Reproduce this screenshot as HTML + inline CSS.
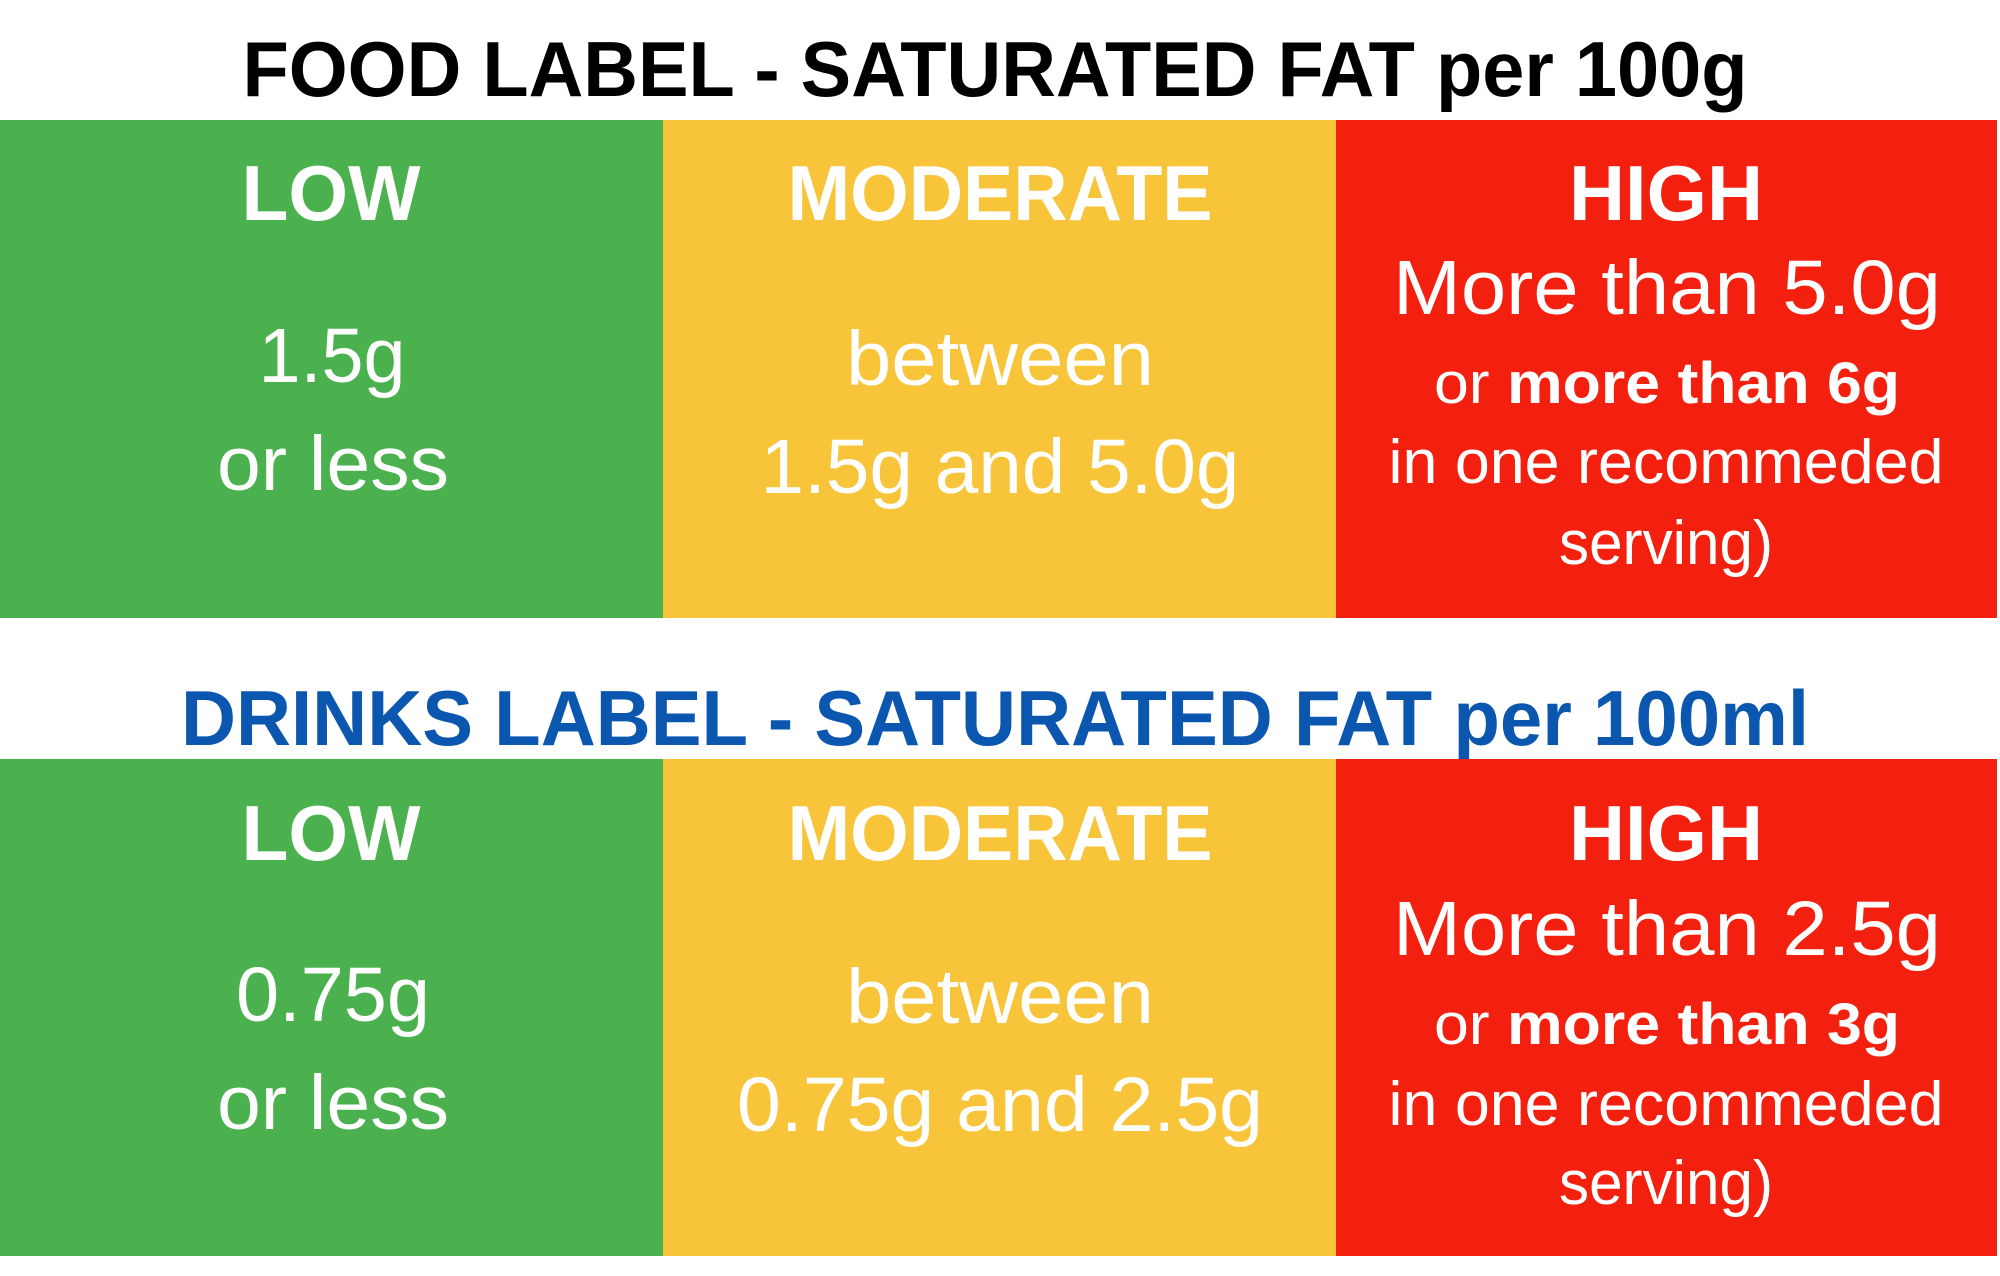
<!DOCTYPE html>
<html><head><meta charset="utf-8"><style>
html,body{margin:0;padding:0;background:#fff;}
svg{display:block;}
text{font-family:"Liberation Sans",sans-serif;fill:#fff;}
.b{font-weight:bold;}
</style></head><body>
<svg width="2000" height="1276" viewBox="0 0 2000 1276">
<rect x="0" y="0" width="2000" height="1276" fill="#fff"/>
<text x="995" y="96" text-anchor="middle" class="b" font-size="78" style="fill:#000" textLength="1505" lengthAdjust="spacingAndGlyphs">FOOD LABEL - SATURATED FAT per 100g</text>
<g>
<rect x="0" y="120" width="663" height="498" fill="#4AB14E"/>
<rect x="663" y="120" width="673" height="498" fill="#F8C43A"/>
<rect x="1336" y="120" width="661" height="498" fill="#F4200F"/>
<text x="331" y="220" text-anchor="middle" class="b" font-size="78" textLength="179" lengthAdjust="spacingAndGlyphs">LOW</text>
<text x="1000" y="220" text-anchor="middle" class="b" font-size="78" textLength="425" lengthAdjust="spacingAndGlyphs">MODERATE</text>
<text x="1666" y="220" text-anchor="middle" class="b" font-size="78" textLength="194" lengthAdjust="spacingAndGlyphs">HIGH</text>
<text x="332" y="382" text-anchor="middle" font-size="77" textLength="147" lengthAdjust="spacingAndGlyphs">1.5g</text>
<text x="333" y="490" text-anchor="middle" font-size="77" textLength="232" lengthAdjust="spacingAndGlyphs">or less</text>
<text x="1000" y="385" text-anchor="middle" font-size="77" textLength="308" lengthAdjust="spacingAndGlyphs">between</text>
<text x="1000" y="493" text-anchor="middle" font-size="77" textLength="479" lengthAdjust="spacingAndGlyphs">1.5g and 5.0g</text>
<text x="1667" y="314" text-anchor="middle" font-size="77" textLength="548" lengthAdjust="spacingAndGlyphs">More than 5.0g</text>
<text x="1667" y="403" text-anchor="middle" font-size="58" textLength="466" lengthAdjust="spacingAndGlyphs">or <tspan class="b">more than 6g</tspan></text>
<text x="1666" y="483" text-anchor="middle" font-size="62" textLength="555" lengthAdjust="spacingAndGlyphs">in one recommeded</text>
<text x="1666" y="564" text-anchor="middle" font-size="62" textLength="214" lengthAdjust="spacingAndGlyphs">serving)</text>
</g>
<text x="995" y="745" text-anchor="middle" class="b" font-size="78" style="fill:#0B57AF" textLength="1628" lengthAdjust="spacingAndGlyphs">DRINKS LABEL - SATURATED FAT per 100ml</text>
<g>
<rect x="0" y="759" width="663" height="497" fill="#4AB14E"/>
<rect x="663" y="759" width="673" height="497" fill="#F8C43A"/>
<rect x="1336" y="759" width="661" height="497" fill="#F4200F"/>
<text x="331" y="860" text-anchor="middle" class="b" font-size="78" textLength="179" lengthAdjust="spacingAndGlyphs">LOW</text>
<text x="1000" y="860" text-anchor="middle" class="b" font-size="78" textLength="425" lengthAdjust="spacingAndGlyphs">MODERATE</text>
<text x="1666" y="860" text-anchor="middle" class="b" font-size="78" textLength="194" lengthAdjust="spacingAndGlyphs">HIGH</text>
<text x="333" y="1021" text-anchor="middle" font-size="77" textLength="194" lengthAdjust="spacingAndGlyphs">0.75g</text>
<text x="333" y="1129" text-anchor="middle" font-size="77" textLength="232" lengthAdjust="spacingAndGlyphs">or less</text>
<text x="1000" y="1023" text-anchor="middle" font-size="77" textLength="308" lengthAdjust="spacingAndGlyphs">between</text>
<text x="1000" y="1131" text-anchor="middle" font-size="77" textLength="526" lengthAdjust="spacingAndGlyphs">0.75g and 2.5g</text>
<text x="1667" y="955" text-anchor="middle" font-size="77" textLength="548" lengthAdjust="spacingAndGlyphs">More than 2.5g</text>
<text x="1667" y="1044" text-anchor="middle" font-size="58" textLength="466" lengthAdjust="spacingAndGlyphs">or <tspan class="b">more than 3g</tspan></text>
<text x="1666" y="1125" text-anchor="middle" font-size="62" textLength="555" lengthAdjust="spacingAndGlyphs">in one recommeded</text>
<text x="1666" y="1204" text-anchor="middle" font-size="62" textLength="214" lengthAdjust="spacingAndGlyphs">serving)</text>
</g>
</svg>
</body></html>
